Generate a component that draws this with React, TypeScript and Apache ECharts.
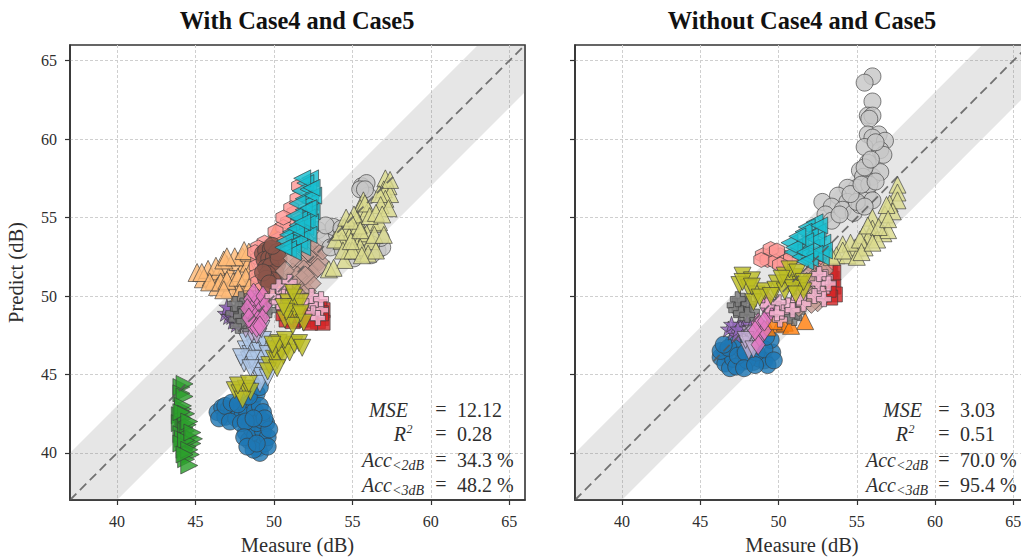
import React, { useEffect, useRef } from "react";
import * as echarts from "echarts";

type P = [number, number];

const tickValues = [40, 45, 50, 55, 60, 65];
const titles = ["With Case4 and Case5", "Without Case4 and Case5"];
const xName = "Measure (dB)";
const yName = "Predict (dB)";
const statsLeft = ["12.12", "0.28", "34.3 %", "48.2 %"];
const statsRight = ["3.03", "0.51", "70.0 %", "95.4 %"];
const bandRows = [[37, 34, 40], [66, 63, 69]];
const diagonal: P[] = [[37, 37], [66, 66]];

const leftBlue: P[] = [[46.4,42.6],[46.7,42.9],[46.9,42.3],[47.1,42.8],[47.3,42.5],[47.5,42.9],[47.6,42.2],[47.8,42.7],[48,42.4],[48.2,43],[48.3,42.5],[48.5,41.9],[48.6,43.3],[48.8,42.7],[48.9,43.8],[49.1,43],[48.2,41.3],[48.4,40.8],[48.6,41.5],[48.8,41.1],[49,40.3],[49.1,40],[49.3,41.4],[49.4,40.6],[49.5,41.9],[49.6,41],[48.9,41.9],[49.2,42.1],[48.7,40.2],[49.6,40.4],[46.5,42.2],[46.9,43],[47.3,43.2],[47.7,43.1],[47.2,42],[47.9,41.9],[48.2,42],[48.4,43.6],[49.3,42.6],[49.7,41.5],[48.1,41],[48.3,40.4],[48.9,40.6],[49.4,42.2],[49.1,44.2],[48.7,42.2]];
const leftGreen: P[] = [[44.1,44.2],[44.3,44.4],[44.1,43.8],[44.3,43.6],[44.2,42.8],[44,42.4],[44.2,42.2],[44,41.9],[44.3,41.6],[44.1,41.2],[44.4,41.4],[44.2,40.9],[44.6,41],[44.8,40.6],[44.5,40.4],[44.3,40.2],[44.7,39.9],[44.4,39.6],[44.6,39.2],[44.1,40.6],[44.9,40.9],[44.5,41.8],[44.2,43],[44.4,42.5],[44.1,42.6],[44.6,42],[44.4,40.8],[44.6,40.2],[44.8,41.3],[44.3,39.9]];
const leftOlive: P[] = [[47.5,44],[47.8,43.8],[48.2,44.1],[48.5,43.9],[48,43.4],[47.7,44.3],[48.4,44.4],[49.7,45.6],[50,46],[50.2,45.9],[50.4,46.5],[50.6,46.2],[50.8,46.8],[51,46.4],[51.3,46.9],[51.6,47],[51.8,46.7],[50,46.6],[49.6,45.2],[50.3,47],[50.7,47.2],[50.2,45.4],[49.9,46.9],[50.9,49.6],[51.3,49.9],[51,49.2],[51.4,49.3],[51.7,49.6],[51.1,48.7],[51.5,48.8],[50.7,48.5],[51.9,48.3],[51.2,48.1],[50.8,49],[50.6,49.3],[51.2,50.2],[51.7,48.9]];
const leftSky: P[] = [[48.4,47.5],[48.7,47.2],[49,47.4],[48.2,46.6],[48.5,46.3],[48.8,46.7],[49.1,46.5],[49.4,46.8],[48.1,45.7],[48.4,45.9],[48.7,45.6],[49,45.9],[49.3,46],[48.9,45.2],[49.2,44.9],[49.5,45.4],[49.1,44.4],[49.6,44.8],[48.3,47.1],[49.3,47.2],[48.6,46],[47.9,46.1],[49.6,46.3],[48.5,45.4]];
const leftLavender: P[] = [[48.4,48.1],[48.7,48],[49,47.8],[48.6,47.6],[48.2,47.9],[48.9,47.5],[49.2,47.9]];
const leftGrayStar: P[] = [[47.4,48.9],[47.7,49.2],[48,49.4],[48.2,49],[47.6,48.5],[47.9,48.7],[48.4,48.6],[48.6,49.3],[48.9,48.9],[49.2,49.2],[48.2,48.2],[49.4,49],[47.9,49.8],[48.3,49.7],[47.5,49.5],[47.7,48.1],[49.7,49.1],[48.1,48.4]];
const leftPurple: P[] = [[46.9,48.9],[47.1,48.7],[47.3,49.1],[47.4,48.4],[47.6,48.8],[47.2,49.2],[47,49.3],[47.6,48.2],[47.3,48.7]];
const leftMagenta: P[] = [[48.5,49.8],[48.8,49.4],[49,49.8],[49.2,49.2],[48.7,48.8],[49,48.5],[48.6,48.2],[49.3,48.6],[48.3,49.2],[48.9,48],[48.7,50.2],[49.3,50],[48.4,48.6],[49.5,49.5],[49.1,48.1]];
const leftKhaki: P[] = [[57.1,57.5],[57.3,57],[57,56.8],[57.4,56.5],[57.1,56.2],[56.7,56.5],[56.8,55.8],[57.3,55.6],[55.7,56.1],[55.5,55.6],[55.9,55.3],[56.3,54.6],[56.7,54.7],[55.3,54.9],[55,54.3],[54.5,54.4],[54.8,53.8],[55.2,53.4],[55.6,53.8],[55.9,54],[56.2,53.5],[55.5,53.1],[56,52.7],[54.3,53.5],[53.9,53.6],[54.8,52.9],[54.5,52.3],[54.4,52.9],[53.5,51.7],[53.8,51.8],[55.4,54.5],[55.1,55.2],[54.2,54.1],[56.5,52.9],[55.8,55.9],[56.1,55.1],[54.6,55],[54.9,54.8],[56.5,55.3],[56.9,55.2],[56.4,53.9],[57,53.9],[55,52.9],[55.6,52.6],[54.9,53.5],[55.5,54.2],[57.4,57.4]];
const leftGrayCircle: P[] = [[52.8,54.2],[53.2,53.7],[53.6,53.1],[54,54],[53.8,54.4],[54.4,52.9],[55.1,52.4],[55.9,52.9],[56.6,52.9],[56.9,53.1],[55.6,57],[55.9,57.2],[56,56.4],[55.5,56.8],[56.8,53.7],[54.9,53.3],[56.2,53.3],[53.3,54.5],[54.3,54.3],[55.5,52.7],[56.2,52.6],[55.8,56.8]];
const leftTeal: P[] = [[52.3,57.5],[52,57.2],[51.7,56.7],[52.2,56.8],[51.9,56.2],[52.3,56],[52.4,55.4],[51.9,55.5],[51.5,55.9],[52.1,55],[51.6,54.9],[52,54.4],[51.5,54.5],[51.1,54.1],[50.9,53.9],[51.3,53.6],[50.7,53.5],[51.7,54],[51.1,53.3],[51.6,53.5],[52.3,54.7],[52.5,56.4],[51.8,57.5],[52.4,56.9],[51.3,55.1],[51.8,53.1],[50.9,53],[52.2,53.9],[51.4,54.3],[52.2,55.6],[51.8,54.7],[51.2,52.8],[50.6,53.1]];
const leftSalmon: P[] = [[51.3,55.3],[51.5,56.2],[50.9,54.7],[50.6,54.4],[50.3,53.6],[49.8,53.1],[49.4,52.9],[49,52.4],[48.9,51.9],[48.9,51.3],[49,50.9],[49.3,50.5],[49.7,53.2],[51.6,57],[51.1,55.6],[50.6,55],[50.1,54.1],[49.4,53.4],[49,53.1],[48.8,52.8]];
const leftOrange: P[] = [[49.4,50.1],[49.6,50.7],[50.2,53.7],[49.2,50.3],[50,51],[49.3,49.5],[49.6,51.4],[50.1,54.1]];
const leftBrown: P[] = [[49.3,52.7],[49.5,52.9],[49.8,53],[49.4,52.3],[49.7,52.4],[50,52.5],[50.2,52],[49.5,51.8],[49.8,51.9],[50.1,51.5],[49.6,51.4],[49.9,51],[50.2,52.8],[49.5,51.1],[50.3,52.4],[49.3,51.5],[49.7,50.8],[49.9,53.2]];
const leftRosy: P[] = [[51.8,53.2],[52.3,53],[52.6,52.6],[52.1,52.4],[51.6,52.2],[52.5,52],[52.9,52.2],[51.9,51.7],[52.4,51.4],[51.2,51.5],[50.9,50.9],[51.4,50.7],[51.9,50.9],[52.1,50.3],[51.5,50.1],[50.9,50.3],[52.3,52.7],[52,53.6],[52.7,53.2],[53.1,52.9],[52.8,51.8],[51.5,51.3],[51.2,52.4],[50.7,51.6],[52.4,50.8],[52,51.3]];
const leftPlus: P[] = [[49.9,50],[50.3,49.6],[50.6,50.3],[50.9,49.9],[51,50.9],[52.3,49.5],[52.7,49.4],[53,49.1],[52.5,48.9],[52,49.7],[52.8,48.6],[50.6,49.3],[52.4,50],[53,49.8],[50.3,50.6]];
const leftRed: P[] = [[50.8,48.5],[51.2,48.4],[51.7,48.5],[52.1,48.5],[52.4,48.7],[52.7,48.9],[53,48.6],[53.1,49.1],[52.8,48.4],[53.1,48.3],[52.9,49.3],[53,48.9],[51.5,48.8],[51.9,48.9],[52.3,48.3],[50.6,48.9]];
const leftLightOrange: P[] = [[45.1,51.5],[45.5,51.1],[45.8,51.7],[46,51.2],[46.2,51],[46.5,51.6],[46.7,51.1],[47,52],[47.2,51.4],[47.4,50.9],[47.7,52.2],[47.9,51.5],[48,52.5],[48.4,52.1],[47.9,50.7],[48.5,51.6],[46.3,51.9],[46.8,52.3],[48.3,50.5],[47.5,52.5],[46.4,50.6],[47.2,50.5],[45.4,51.5],[45.9,50.9],[46.6,50.9],[47,51],[47.7,51.2],[48.2,51.2],[48.4,52.8],[47,52.5],[48.6,50.9],[47.8,50.2],[46.8,50.4],[48.1,52.9]];

const rightGrayCircle: P[] = [[56,64],[55.5,63.6],[56,62.4],[55.7,61.5],[56,61.5],[55.8,61.3],[55.7,60.3],[56.4,60.3],[56,60.1],[56.8,59.9],[55.5,59.5],[56.5,59.3],[56.7,59],[56.2,59.8],[55.7,58.5],[55.2,58],[56,57.6],[56.5,57.9],[55.4,57.6],[55,56.9],[55.7,56.4],[55.8,57.1],[54.4,56.9],[53.8,56.4],[54.4,56],[52.8,56],[53.4,55.7],[53,55.2],[53.4,54.8],[54.1,55.5],[54.8,55.3],[55.2,55.8],[56,56.1],[55.5,58.2],[55.9,58.7],[55,56],[54.6,56.5],[53.9,55.2],[55.5,55.7],[55.3,57.1],[56.2,57.3]];
const rightKhaki: P[] = [[57.6,57.1],[57.6,56.6],[57.1,55.9],[57.6,56.1],[57.3,55.4],[56.8,55.2],[56,55],[56,54.3],[56.7,54],[57,54.2],[55.4,53.9],[55.8,53.8],[54.1,53.3],[54.9,53.1],[55.5,53.1],[53.7,52.6],[54.4,52.6],[55,52.5],[54.6,53.4],[55.2,53.6],[56.3,53.6],[53.4,52.5],[55.7,54.5],[56.4,54.4],[56.9,55.8],[54.1,52.9],[55.3,52.8],[56,53.4],[57,54.9]];
const rightTeal: P[] = [[52.3,54.7],[51.8,54.4],[52.5,54.1],[52,53.8],[51.4,53.3],[52.8,53.4],[52.1,53.1],[50.9,52.8],[51.4,52.5],[52.7,52.5],[52,52.4],[50.7,53.4],[51.6,54.1],[52.4,53.6],[51.7,53.5],[51,53.1],[52.9,52.9],[52.3,52.7],[51.7,52.8],[52.6,54.5],[51.2,53.8],[51.7,52.2]];
const rightSalmon: P[] = [[49.6,52.7],[49,52.6],[50.1,52.6],[49.3,52.3],[49.8,52.2],[50.4,52.2],[49.5,53],[52.8,52.4],[52.7,52.8],[52.3,51.9],[48.9,52.3],[50.8,52.4],[50.1,52],[49.9,52.9],[53,51.9],[52.6,51.6]];
const rightOlive: P[] = [[47.7,51.3],[48.3,51],[47.5,50.7],[48.1,50.5],[48.6,50.1],[49.1,50.3],[48.4,49.6],[50.4,51.3],[51,51.2],[49.9,50.8],[50.6,50.8],[51.4,50.7],[49.8,50.4],[50.4,50.3],[51.6,50.3],[50.9,50.5],[50.7,51.7],[47.7,50.9],[48.3,50.6],[48.8,49.9],[49.5,50],[51.2,51.5],[50.2,51.1],[51.1,50.1],[51.6,50.9]];
const rightRosy: P[] = [[52.1,51.5],[52.4,50.6],[51.8,50.9],[52,50.1],[52.5,49.6],[51.3,49.3],[52.8,50.9],[51.7,49.9],[52.3,51.2],[52.9,51.6],[51.5,50.5],[52.1,49.5]];
const rightPlus: P[] = [[53,51.2],[52.8,50.3],[51,49.7],[50.6,49.4],[50.1,48.5],[50.2,49],[49.3,49.4],[52.5,50.8],[53.2,50.8],[52.6,51.4],[52.3,50],[51.6,49.5],[50.9,49.1],[50,49.6],[49.9,48.9],[52.9,49.8],[51.3,49.9]];
const rightRed: P[] = [[53.4,51.1],[53.5,50.6],[53.6,50.1],[53.3,51.7],[53.3,49.9],[53.2,50.4],[53.2,51.4],[53.5,51.5]];
const rightGrayStar: P[] = [[47.7,49.7],[47.2,49.4],[47.8,49.2],[47.3,49.1],[50,49.2],[51,48.6],[50.7,48.7],[48.1,49.5],[47.6,48.9],[48.3,49],[47.4,49.8],[49.9,48.8],[51.2,49],[48,48.8]];
const rightOrange: P[] = [[51.7,48.4],[50.1,48.2],[49.3,48],[50.4,48.3],[49.7,48.4],[50.8,48.1]];
const rightPurple: P[] = [[47.1,47.7],[47.5,48.2],[48,48.3],[46.8,47.9],[47.3,47.5],[47.7,47.9],[47,48.2],[48.2,48],[47.4,47.9]];
const rightMagenta: P[] = [[49.3,49.7],[49.3,49.2],[48.7,48.3],[48.8,47.4],[48.7,46.9],[49.1,47.8],[49.4,48.9],[49.1,48.4],[48.5,47.8]];
const rightLavender: P[] = [[48.2,47.5],[48.2,46.9],[48.5,47.1],[48.4,47.6],[48.1,46.5],[47.9,47.2],[48.4,46.6]];
const rightBlue: P[] = [[46.6,46.4],[46.3,46.1],[46.6,45.7],[46.9,45.4],[47.1,46],[47.7,45.8],[47.5,46.7],[48.4,45.8],[49.1,45.9],[49.6,46.4],[49.5,47.2],[48.8,46],[47.1,47],[46.3,46.5],[47.3,45.5],[48,45.9],[49.3,45.6],[46.8,46.7],[47.4,46.2],[47.9,46.4],[48.6,46.4],[49.1,46.6],[46.5,46.9],[47.8,45.4],[48.5,45.6],[49.7,45.9],[49.2,47.4]];

const HEX = "path://M0 -10L8.66 -5L8.66 5L0 10L-8.66 5L-8.66 -5Z";
const PLUS = "path://M-3.5 -10H3.5V-3.5H10V3.5H3.5V10H-3.5V3.5H-10V-3.5H-3.5Z";
const STAR = "path://M0 -10L2.4 -3.2L9.5 -3.1L3.8 1.2L5.9 8.1L0 4L-5.9 8.1L-3.8 1.2L-9.5 -3.1L-2.4 -3.2Z";

const serif = "'Liberation Serif', 'Times New Roman', serif";
const ink = "#2e2e2e";

function marks(data: P[], idx: number, color: string, symbol: string, size: any, rotate = 0) {
  return {
    type: "scatter",
    xAxisIndex: idx,
    yAxisIndex: idx,
    data,
    symbol,
    symbolSize: size,
    symbolRotate: rotate,
    z: 3,
    itemStyle: { color, opacity: 0.82, borderColor: "#3a3a3a", borderWidth: 0.8 },
    silent: true,
  };
}

function band(idx: number) {
  return {
    type: "custom",
    xAxisIndex: idx,
    yAxisIndex: idx,
    data: bandRows,
    clip: true,
    z: 1,
    silent: true,
    encode: { x: 0, y: 1 },
    renderItem: (params: any, api: any) => {
      if (params.dataIndex !== 0) return null;
      const [a, lo1, hi1] = bandRows[0];
      const [b, lo2, hi2] = bandRows[1];
      return {
        type: "polygon",
        shape: { points: [api.coord([a, hi1]), api.coord([b, hi2]), api.coord([b, lo2]), api.coord([a, lo1])] },
        style: { fill: "rgba(120,120,120,0.19)" },
      };
    },
  };
}

function line(idx: number) {
  return {
    type: "line",
    xAxisIndex: idx,
    yAxisIndex: idx,
    data: diagonal,
    showSymbol: false,
    z: 5,
    silent: true,
    lineStyle: { color: "#555", width: 1.8, type: [9, 5], opacity: 0.8 },
  };
}

function axis(gridIndex: number, dim: "x" | "y", showLabel: boolean, name: string) {
  return {
    type: "value",
    gridIndex,
    min: 37,
    max: 66,
    name,
    nameLocation: "middle",
    nameGap: dim === "x" ? 34 : 44,
    nameTextStyle: { fontFamily: serif, fontSize: 20.5, color: ink },
    axisLine: { show: true, onZero: false, lineStyle: { color: "#333", width: 1.6 } },
    axisTick: { show: true, length: 5, customValues: tickValues, lineStyle: { color: "#333", width: 1.2 } },
    axisLabel: { show: showLabel, customValues: tickValues, margin: 13, fontFamily: serif, fontSize: 16, color: ink },
    splitLine: { show: true, lineStyle: { color: "#cfcfcf", width: 1, type: [3, 2] } },
  };
}

function statText(x: number, y: number, text: string, size: number, align: string, italic = false) {
  return {
    type: "text",
    x,
    y,
    z: 20,
    style: {
      text,
      fill: ink,
      font: `${italic ? "italic " : ""}${size}px ${serif}`,
      textAlign: align,
      textVerticalAlign: "middle",
    },
  };
}

function stats(mseEnd: number, rEnd: number, accEnd: number, eqX: number, valX: number, values: string[]) {
  const rows = [410, 434, 460, 485];
  const out: any[] = [];
  out.push(statText(mseEnd, rows[0], "MSE", 20, "right", true));
  out.push(statText(rEnd, rows[1], "R", 20, "right", true));
  out.push(statText(rEnd + 0.5, rows[1] - 5, "2", 12, "left", true));
  out.push(statText(accEnd, rows[2], "Acc", 20, "right", true));
  out.push(statText(accEnd, rows[2] + 5, "<2dB", 14, "left", true));
  out.push(statText(accEnd, rows[3], "Acc", 20, "right", true));
  out.push(statText(accEnd, rows[3] + 5, "<3dB", 14, "left", true));
  rows.forEach((y, i) => {
    out.push(statText(eqX, y - 1, "=", 20, "center"));
    out.push(statText(valX, y, values[i], 20, "left"));
  });
  return out;
}

export default function App() {
  const ref = useRef<HTMLDivElement>(null);
  useEffect(() => {
    document.body.style.margin = "0";
    const chart = echarts.init(ref.current!, undefined, { renderer: "svg" });
    const triDown = 180;
    const tri = 17;
    const circ = 17;
    const titleStyle = { fontFamily: serif, fontWeight: "bold", fontSize: 24.4, color: "#111" };
    chart.setOption({
      animation: false,
      backgroundColor: "#fff",
      title: [
        { text: titles[0], left: 292, top: 3, textAlign: "center", textStyle: titleStyle },
        { text: titles[1], left: 797, top: 3, textAlign: "center", textStyle: titleStyle },
      ],
      grid: [
        { left: 70, top: 45, width: 455, height: 455, show: true, borderColor: "#333", borderWidth: 1.6, backgroundColor: "#fff", outerBoundsMode: "none" },
        { left: 575, top: 45, width: 454, height: 455, show: true, borderColor: "#333", borderWidth: 1.6, backgroundColor: "#fff", outerBoundsMode: "none" },
      ],
      xAxis: [axis(0, "x", true, xName), axis(1, "x", true, xName)],
      yAxis: [axis(0, "y", true, yName), axis(1, "y", false, "")],
      graphic: [...stats(408, 406, 392, 441, 457, statsLeft), ...stats(922, 908, 896, 944, 960, statsRight)],
      series: [
        band(0),
        marks(leftBlue, 0, "#1f77b4", "circle", circ),
        marks(leftSky, 0, "#aec7e8", "triangle", tri, triDown),
        marks(leftOrange, 0, "#ff7f0e", "triangle", tri),
        marks(leftLightOrange, 0, "#ffbb78", "triangle", tri + 1),
        marks(leftGreen, 0, "#2ca02c", "triangle", tri, -90),
        marks(leftRed, 0, "#d62728", "rect", 15),
        marks(leftSalmon, 0, "#ff9896", HEX, 15),
        marks(leftBrown, 0, "#8c564b", "circle", circ),
        marks(leftPurple, 0, "#9467bd", STAR, 16),
        marks(leftLavender, 0, "#c5b0d5", "triangle", tri, triDown),
        marks(leftGrayStar, 0, "#7f7f7f", PLUS, 15),
        marks(leftRosy, 0, "#c49c94", "diamond", 19),
        marks(leftMagenta, 0, "#e377c2", "diamond", [14, 20]),
        marks(leftPlus, 0, "#f7b6d2", PLUS, 15),
        marks(leftOlive, 0, "#bcbd22", "triangle", tri, triDown),
        marks(leftGrayCircle, 0, "#c7c7c7", "circle", circ),
        marks(leftKhaki, 0, "#dbdb8d", "triangle", tri),
        marks(leftTeal, 0, "#17becf", "triangle", tri, 90),
        line(0),
        band(1),
        marks(rightBlue, 1, "#1f77b4", "circle", circ),
        marks(rightOrange, 1, "#ff7f0e", "triangle", tri),
        marks(rightRed, 1, "#d62728", "rect", 15),
        marks(rightSalmon, 1, "#ff9896", HEX, 15),
        marks(rightPurple, 1, "#9467bd", STAR, 16),
        marks(rightLavender, 1, "#c5b0d5", "triangle", tri, triDown),
        marks(rightGrayStar, 1, "#7f7f7f", PLUS, 15),
        marks(rightRosy, 1, "#c49c94", "diamond", 19),
        marks(rightMagenta, 1, "#e377c2", "diamond", [14, 20]),
        marks(rightPlus, 1, "#f7b6d2", PLUS, 15),
        marks(rightOlive, 1, "#bcbd22", "triangle", tri, triDown),
        marks(rightGrayCircle, 1, "#c7c7c7", "circle", circ),
        marks(rightKhaki, 1, "#dbdb8d", "triangle", tri),
        marks(rightTeal, 1, "#17becf", "triangle", tri, 90),
        line(1),
      ],
    });
    return () => chart.dispose();
  }, []);
  return <div ref={ref} style={{ width: 1021, height: 557, overflow: "hidden" }} />;
}
